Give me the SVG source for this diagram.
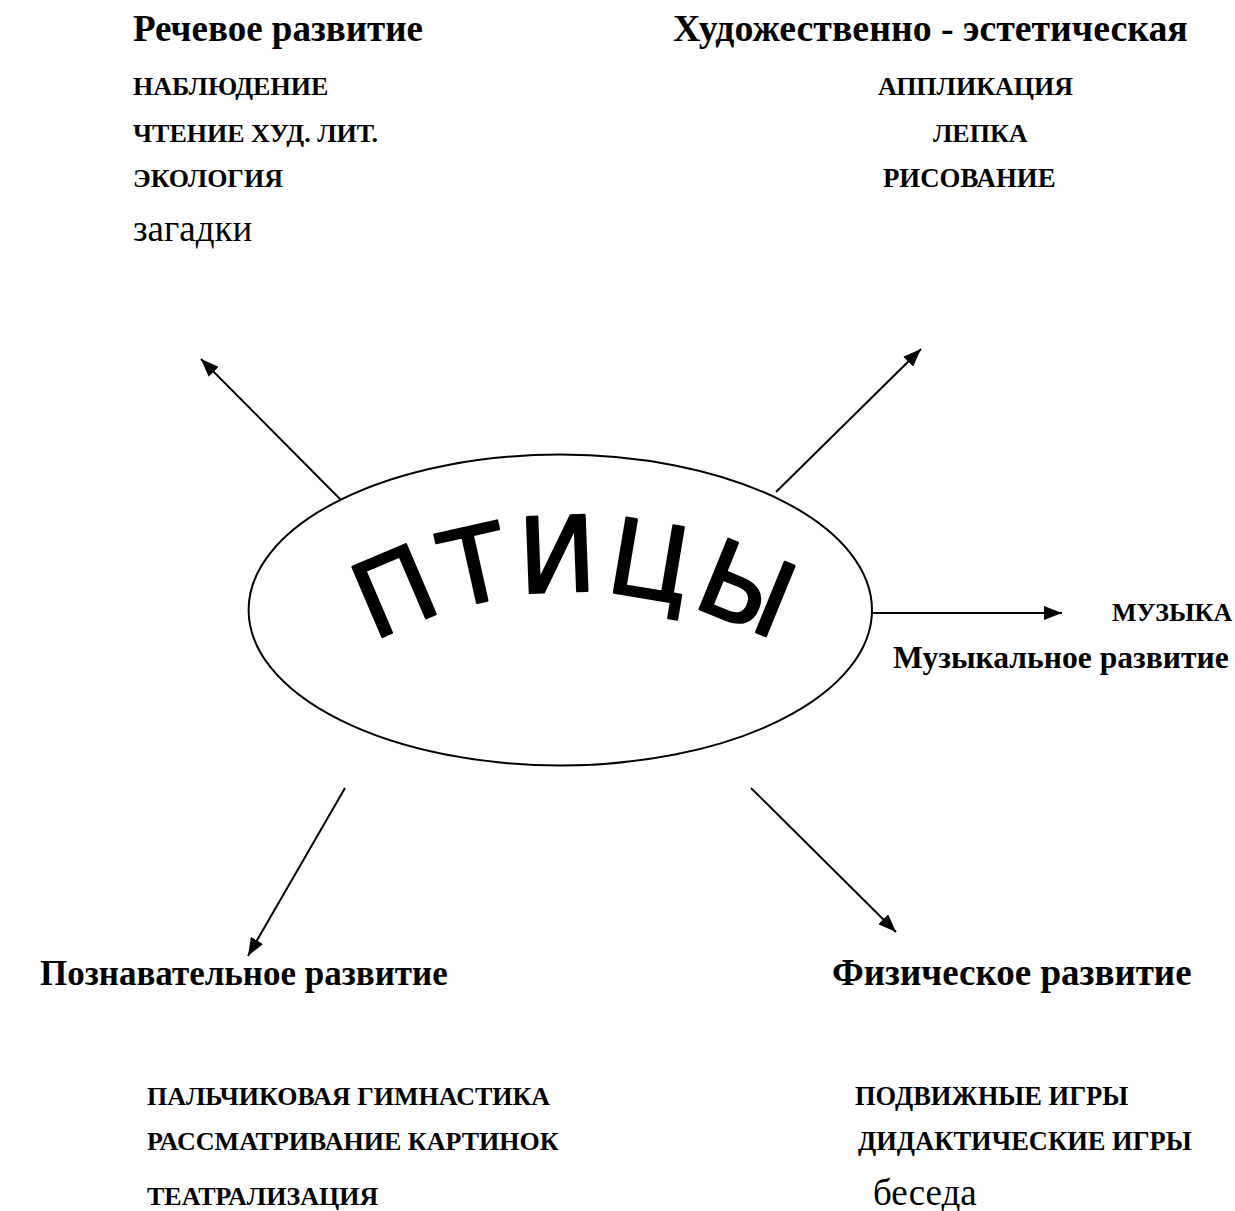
<svg xmlns="http://www.w3.org/2000/svg" width="1235" height="1211" viewBox="0 0 1235 1211">
<style>
.h{font-family:"Liberation Serif","Times New Roman",serif;font-weight:bold;font-size:37px;fill:#000}
.hm{font-family:"Liberation Serif","Times New Roman",serif;font-weight:bold;font-size:31.6px;fill:#000}
.i{font-family:"Liberation Serif","Times New Roman",serif;font-weight:bold;font-size:26px;fill:#000}
.r{font-family:"Liberation Serif","Times New Roman",serif;font-size:37px;fill:#000}
.c{stroke:#000;stroke-width:2;fill:none}
.t{font-family:"DejaVu Sans",sans-serif;font-size:104px;fill:#000;stroke:#000;stroke-width:2.5;stroke-linejoin:round}
</style>
<defs>
<marker id="ah" viewBox="0 0 18 14" refX="18" refY="7" markerWidth="18" markerHeight="14" markerUnits="userSpaceOnUse" orient="auto">
<path d="M0,0 L18,7 L0,14 z" fill="#000"/>
</marker>
<path id="arc" d="M 304 689.8 A 420 420 0 0 1 844 689.8"/>
</defs>
<g id="connectors">
<line class="c" x1="343" y1="502" x2="201" y2="359" marker-end="url(#ah)"/>
<line class="c" x1="776" y1="492" x2="921" y2="349" marker-end="url(#ah)"/>
<line class="c" x1="873" y1="613" x2="1062" y2="613" marker-end="url(#ah)"/>
<line class="c" x1="345" y1="788" x2="248" y2="956" marker-end="url(#ah)"/>
<line class="c" x1="751" y1="788" x2="896" y2="932" marker-end="url(#ah)"/>
</g>
<g id="center">
<ellipse cx="560.3" cy="610" rx="311.7" ry="155.5" fill="#fff" stroke="#000" stroke-width="2"/>
<text class="t" textLength="417" lengthAdjust="spacing"><textPath href="#arc" startOffset="50%" text-anchor="middle">ПТИЦЫ</textPath></text>
</g>
<g id="speech">
<text class="h" x="133" y="40.5">Речевое развитие</text>
<text class="i" x="133" y="95">НАБЛЮДЕНИЕ</text>
<text class="i" x="133" y="141.5">ЧТЕНИЕ ХУД. ЛИТ.</text>
<text class="i" x="133" y="187">ЭКОЛОГИЯ</text>
<text class="r" x="133" y="240.5">загадки</text>
</g>
<g id="art">
<text class="h" x="673" y="40.5" style="font-size:37.8px">Художественно - эстетическая</text>
<text class="i" x="878" y="95">АППЛИКАЦИЯ</text>
<text class="i" x="933" y="141.5">ЛЕПКА</text>
<text class="i" x="883" y="187" style="font-size:26.8px">РИСОВАНИЕ</text>
</g>
<g id="music">
<text class="i" x="1112" y="621">МУЗЫКА</text>
<text class="hm" x="893" y="668">Музыкальное развитие</text>
</g>
<g id="cognitive">
<text class="h" x="40" y="985" style="font-size:35px">Познавательное развитие</text>
<text class="i" x="147" y="1105">ПАЛЬЧИКОВАЯ ГИМНАСТИКА</text>
<text class="i" x="147" y="1150">РАССМАТРИВАНИЕ КАРТИНОК</text>
<text class="i" x="147" y="1205">ТЕАТРАЛИЗАЦИЯ</text>
</g>
<g id="physical">
<text class="h" x="832" y="985">Физическое развитие</text>
<text class="i" x="855" y="1105" style="font-size:26.5px">ПОДВИЖНЫЕ ИГРЫ</text>
<text class="i" x="858" y="1150" style="font-size:26.5px">ДИДАКТИЧЕСКИЕ ИГРЫ</text>
<text class="r" x="873" y="1205">беседа</text>
</g>
</svg>
